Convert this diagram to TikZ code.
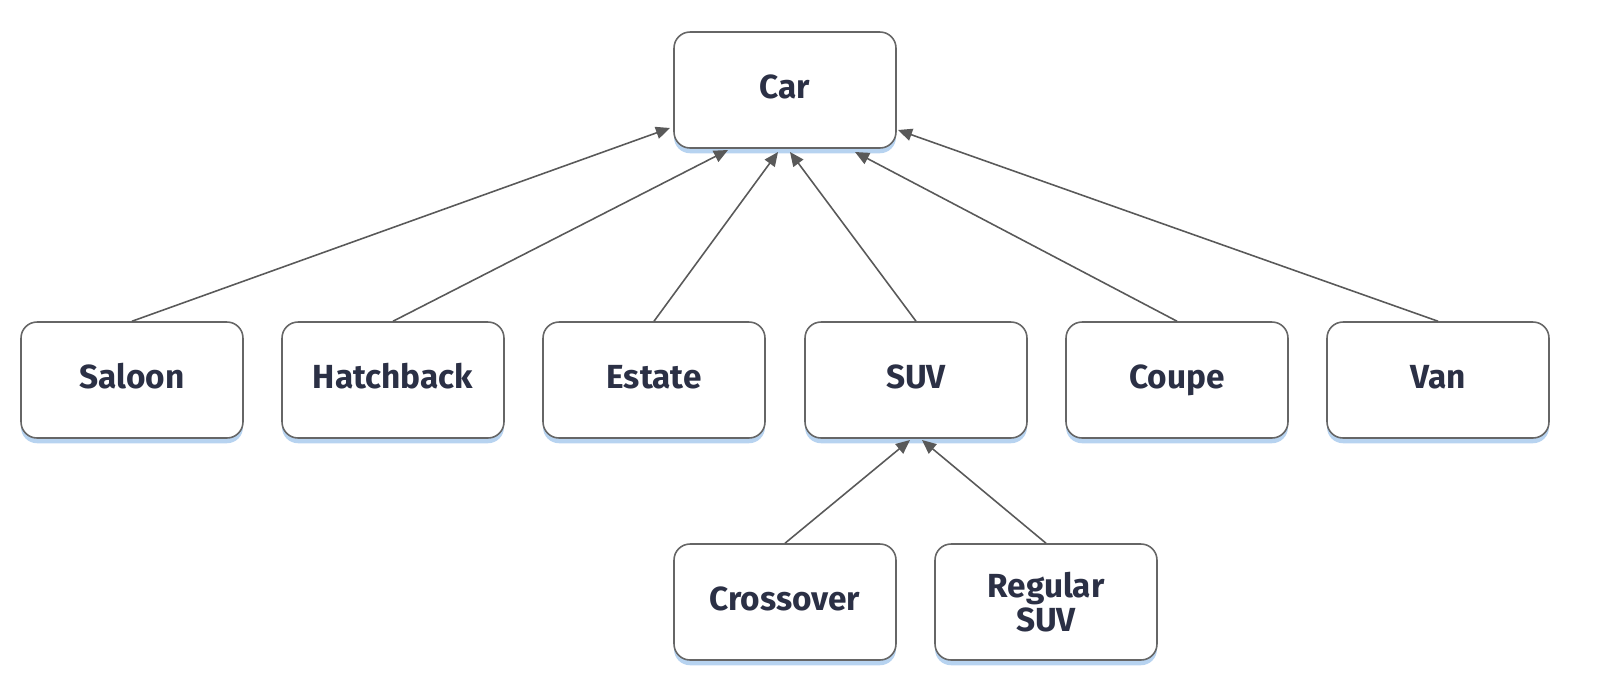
\documentclass[tikz,border=0pt]{standalone}
\usepackage{fontspec}
\setmainfont{Fira Sans}
\usetikzlibrary{arrows.meta}
\definecolor{txt}{HTML}{2B3045}
\definecolor{shd}{HTML}{B7D3F0}
\newcommand{\vp}{\vphantom{Cp}}
\begin{document}
\begin{tikzpicture}[x=0.02cm,y=-0.02cm,
  box/.style={draw=black!60,line width=0.9pt,rounded corners=0.32cm,fill=white,
    minimum width=4.44cm,minimum height=2.32cm,inner sep=0pt,align=center,
    font=\fontsize{19}{21}\selectfont\bfseries,text=txt,
    preaction={draw=none,fill=shd,transform canvas={yshift=-3pt}}},
  arr/.style={draw=black!65,line width=0.9pt,-{Triangle[length=8pt,width=7pt]}}]
\node[box] (car) at (785,90) {\vp Car};
\node[box] (saloon) at (132,380) {\vp Saloon};
\node[box] (hatch) at (393,380) {\vp Hatchback};
\node[box] (estate) at (654,380) {\vp Estate};
\node[box] (suv) at (916,380) {\vp SUV};
\node[box] (coupe) at (1177,380) {\vp Coupe};
\node[box] (van) at (1438,380) {\vp Van};
\node[box] (cross) at (785,602) {\vp Crossover};
\node[box] (reg) at (1046,602) {Regular\\[-2pt]SUV};
\coordinate (c1) at (670,128);
\coordinate (c2) at (728,150);
\coordinate (c3) at (778,152);
\coordinate (c4) at (790,152);
\coordinate (c5) at (855,152);
\coordinate (c6) at (898,130);
\coordinate (s1) at (910,440);
\coordinate (s2) at (922,440);
\draw[arr] (saloon.north) -- (c1);
\draw[arr] (hatch.north) -- (c2);
\draw[arr] (estate.north) -- (c3);
\draw[arr] (suv.north) -- (c4);
\draw[arr] (coupe.north) -- (c5);
\draw[arr] (van.north) -- (c6);
\draw[arr] (cross.north) -- (s1);
\draw[arr] (reg.north) -- (s2);
\pgfresetboundingbox
\useasboundingbox (0,0) rectangle (1600,698);
\end{tikzpicture}
\end{document}
